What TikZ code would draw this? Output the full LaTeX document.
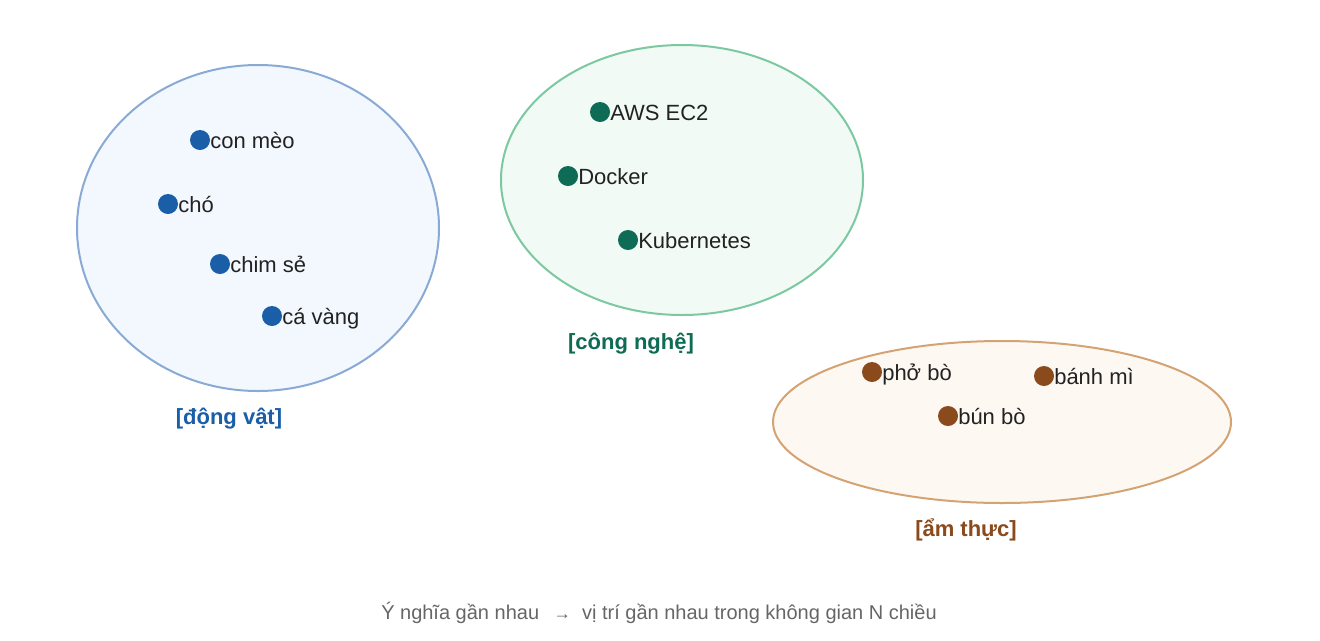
\documentclass[tikz,border=0pt]{standalone}
\usepackage{fontspec}
\setmainfont{Liberation Sans}
\begin{document}
\begin{tikzpicture}[x=0.75pt,y=-0.75pt,
  cluster/.style={line width=1.5pt},
  dot/.style={circle,inner sep=0pt,minimum size=15pt},
  lbl/.style={anchor=base west,inner sep=0pt,text=txt,font=\fontsize{16.5}{18}\selectfont},
  grp/.style={anchor=base,inner sep=0pt,font=\bfseries\fontsize{16.5}{18}\selectfont},
  captext/.style={anchor=base,inner sep=0pt,text=capc,font=\fontsize{15}{18}\selectfont}]
\definecolor{txt}{HTML}{222222}
\definecolor{capc}{HTML}{666666}
\definecolor{bdot}{HTML}{1A5EA8}
\definecolor{gdot}{HTML}{0E6B55}
\definecolor{odot}{HTML}{8B4A1C}
\definecolor{bfill}{HTML}{F3F8FE}
\definecolor{bline}{HTML}{8AAAD6}
\definecolor{gfill}{HTML}{F1FAF5}
\definecolor{gline}{HTML}{7CC8A0}
\definecolor{ofill}{HTML}{FEF8F3}
\definecolor{oline}{HTML}{D4A374}
\useasboundingbox[fill=white] (0,0) rectangle (1320,640);
% clusters
\draw[cluster,draw=bline,fill=bfill] (258,228) ellipse [x radius=181, y radius=163];
\draw[cluster,draw=gline,fill=gfill] (682,180) ellipse [x radius=181, y radius=135];
\draw[cluster,draw=oline,fill=ofill] (1002,422) ellipse [x radius=229, y radius=81];
% animals
\node[dot,fill=bdot] (meo) at (200,140) {};
\node[lbl] (meot) at (210,148) {con mèo};
\node[dot,fill=bdot] (cho) at (168,204) {};
\node[lbl] (chot) at (178,212) {chó};
\node[dot,fill=bdot] (se) at (220,264) {};
\node[lbl] (set) at (230,272) {chim sẻ};
\node[dot,fill=bdot] (ca) at (272,316) {};
\node[lbl] (cat) at (282,324) {cá vàng};
% tech
\node[dot,fill=gdot] (aws) at (600,112) {};
\node[lbl] (awst) at (610,120) {AWS EC2};
\node[dot,fill=gdot] (dock) at (568,176) {};
\node[lbl] (dockt) at (578,184) {Docker};
\node[dot,fill=gdot] (kube) at (628,240) {};
\node[lbl] (kubet) at (638,248) {Kubernetes};
% food
\node[dot,fill=odot] (pho) at (872,372) {};
\node[lbl] (phot) at (882,380) {phở bò};
\node[dot,fill=odot] (banh) at (1044,376) {};
\node[lbl] (banht) at (1054,384) {bánh mì};
\node[dot,fill=odot] (bun) at (948,416) {};
\node[lbl] (bunt) at (958,424) {bún bò};
% group labels
\node[grp,text=bdot] (g1) at (229,424) {[động vật]};
\node[grp,text=gdot] (g2) at (631,349) {[công nghệ]};
\node[grp,text=odot] (g3) at (966,536) {[ẩm thực]};
% caption
\node[captext] (caption) at (659,619) {Ý nghĩa gần nhau \ \,{\fontsize{13}{14}\selectfont →}\ \ vị trí gần nhau trong không gian N chiều};
\end{tikzpicture}
\end{document}
